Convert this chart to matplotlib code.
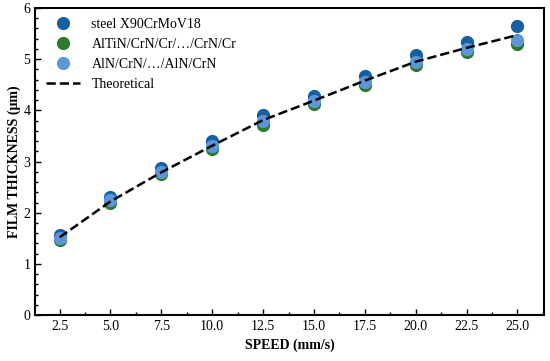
import matplotlib.pyplot as plt
from matplotlib.ticker import MultipleLocator

plt.rcParams['font.family'] = ['Liberation Serif', 'DejaVu Serif']

# data
speed = [2.5, 5.0, 7.5, 10.0, 12.5, 15.0, 17.5, 20.0, 22.5, 25.0]
steel = [1.56, 2.31, 2.88, 3.41, 3.90, 4.28, 4.68, 5.08, 5.34, 5.64]
altin = [1.47, 2.20, 2.75, 3.25, 3.72, 4.12, 4.50, 4.88, 5.13, 5.30]
alcrn = [1.51, 2.25, 2.80, 3.31, 3.79, 4.18, 4.56, 4.94, 5.19, 5.37]
theory = [1.52, 2.22, 2.79, 3.31, 3.81, 4.19, 4.58, 4.95, 5.22, 5.47]

fig = plt.figure(figsize=(5.5, 3.61), dpi=100)
ax = fig.add_axes([0.064, 0.127, 0.925, 0.851])

ax.plot(speed, steel, 'o', color='#17609f', markersize=8.5, label='steel X90CrMoV18')
ax.plot(speed, altin, 'o', color='#2d7a2d', markersize=8.5, label='AlTiN/CrN/Cr/…/CrN/Cr')
ax.plot(speed, alcrn, 'o', color='#5b97d8', markersize=8.5, label='AlN/CrN/…/AlN/CrN')
ax.plot(speed, theory, '--', color='black', linewidth=1.8, label='Theoretical')

ax.set_xlim(1.3, 26.3)
ax.set_ylim(0, 6)
ax.set_xticks(speed)
ax.set_xticklabels(['%.1f' % s for s in speed])
ax.xaxis.set_minor_locator(MultipleLocator(1.25))
ax.yaxis.set_major_locator(MultipleLocator(1))
ax.yaxis.set_minor_locator(MultipleLocator(0.2))
ax.tick_params(which='both', direction='in', labelsize=10)
ax.tick_params(which='major', length=4, width=1)
ax.tick_params(which='minor', length=2.5, width=1)
for s in ax.spines.values():
    s.set_linewidth(1.5)

ax.set_xlabel('SPEED (mm/s)', fontweight='bold', fontsize=10)
ax.set_ylabel('FILM THICKNESS (μm)', fontweight='bold', fontsize=10, labelpad=2)

ax.legend(loc='upper left', frameon=False, fontsize=10, handlelength=2.5,
          borderaxespad=0.35, labelspacing=0.5)

plt.savefig('out.png', dpi=100)
